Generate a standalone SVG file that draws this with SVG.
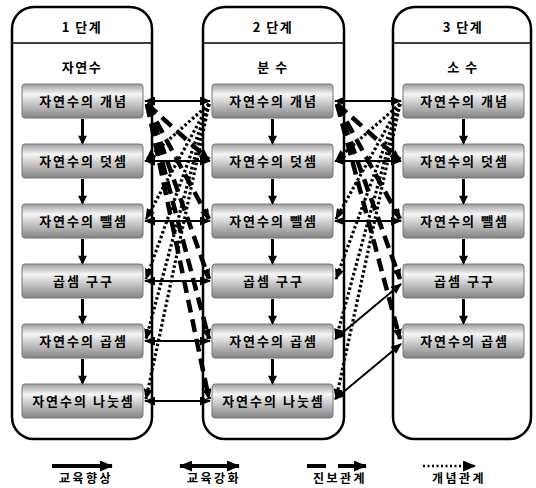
<svg xmlns="http://www.w3.org/2000/svg" width="536" height="488" viewBox="0 0 536 488">
  <defs>
    <linearGradient id="boxFill" x1="0" y1="0" x2="0" y2="1">
      <stop offset="0" stop-color="#9c9c9c"/>
      <stop offset="0.3" stop-color="#f6f6f6"/>
      <stop offset="1" stop-color="#828282"/>
    </linearGradient>
    <marker id="head" markerUnits="userSpaceOnUse" markerWidth="11" markerHeight="9" refX="10" refY="4.5" orient="auto-start-reverse" viewBox="0 0 11 9">
      <path d="M0,0 L11,4.5 L0,9 z" fill="#000"/>
    </marker>
    <marker id="downHead" markerUnits="userSpaceOnUse" markerWidth="10" markerHeight="9" refX="8" refY="5" orient="auto" viewBox="0 0 10 10">
      <path d="M0,0 L10,5 L0,10 z" fill="#000"/>
    </marker>
    <marker id="bigHead" markerUnits="userSpaceOnUse" markerWidth="13" markerHeight="11" refX="12" refY="5.5" orient="auto-start-reverse" viewBox="0 0 13 11">
      <path d="M0,0 L13,5.5 L0,11 z" fill="#000"/>
    </marker>
  </defs>
  <style>
    .col { fill: #fff; stroke: #000; stroke-width: 2.5; }
    .sep { stroke: #000; stroke-width: 1.5; }
    .box { fill: url(#boxFill); stroke: #767676; stroke-width: 1; }
    text { font-family: "Noto Sans CJK KR", "Noto Sans", sans-serif; font-weight: bold; fill: #000; text-anchor: middle; }
    .hdr { font-size: 13px; letter-spacing: 1.5px; }
    .lbl { font-size: 13px; letter-spacing: 2px; }
    .leg { font-size: 12px; letter-spacing: 2.5px; }
    .down { stroke: #000; stroke-width: 3; fill: none; marker-end: url(#downHead); }
    .both { stroke: #000; stroke-width: 2; fill: none; marker-start: url(#head); marker-end: url(#head); }
    .dash { stroke: #000; stroke-width: 4.5; fill: none; stroke-dasharray: 13 7; marker-end: url(#head); }
    .dot { stroke: #000; stroke-width: 3.2; fill: none; stroke-dasharray: 2.6 2.4; marker-end: url(#head); }
    .lsolid { stroke: #000; stroke-width: 4; fill: none; }
  </style>

  <!-- stage columns -->
  <g id="stage1">
    <rect class="col" x="12" y="7" width="140" height="432" rx="22"/>
    <line class="sep" x1="12" y1="43" x2="152" y2="43"/>
    <text class="hdr" x="82" y="32">1 단계</text>
    <text class="hdr" x="82" y="72">자연수</text>
  </g>
  <g id="stage2">
    <rect class="col" x="203" y="7" width="141" height="432" rx="22"/>
    <line class="sep" x1="203" y1="43" x2="344" y2="43"/>
    <text class="hdr" x="273" y="32">2 단계</text>
    <text class="hdr" x="273" y="72">분 수</text>
  </g>
  <g id="stage3">
    <rect class="col" x="393" y="7" width="138" height="432" rx="22"/>
    <line class="sep" x1="393" y1="43" x2="531" y2="43"/>
    <text class="hdr" x="463" y="32">3 단계</text>
    <text class="hdr" x="463" y="72">소 수</text>
  </g>

  <!-- stage 1 topics -->
  <g id="s1-concept"><rect class="box" x="22" y="84" width="121" height="34" rx="3"/><text class="lbl" x="83.5" y="106">자연수의 개념</text></g>
  <g id="s1-add"><rect class="box" x="22" y="144" width="121" height="34" rx="3"/><text class="lbl" x="83.5" y="166">자연수의 덧셈</text></g>
  <g id="s1-sub"><rect class="box" x="22" y="204" width="121" height="34" rx="3"/><text class="lbl" x="83.5" y="226">자연수의 뺄셈</text></g>
  <g id="s1-table"><rect class="box" x="22" y="264" width="121" height="34" rx="3"/><text class="lbl" x="83.5" y="286">곱셈 구구</text></g>
  <g id="s1-mul"><rect class="box" x="22" y="324" width="121" height="34" rx="3"/><text class="lbl" x="83.5" y="346">자연수의 곱셈</text></g>
  <g id="s1-div"><rect class="box" x="22" y="384" width="121" height="34" rx="3"/><text class="lbl" x="83.5" y="406">자연수의 나눗셈</text></g>

  <!-- stage 2 topics -->
  <g id="s2-concept"><rect class="box" x="212" y="84" width="121" height="34" rx="3"/><text class="lbl" x="273.5" y="106">자연수의 개념</text></g>
  <g id="s2-add"><rect class="box" x="212" y="144" width="121" height="34" rx="3"/><text class="lbl" x="273.5" y="166">자연수의 덧셈</text></g>
  <g id="s2-sub"><rect class="box" x="212" y="204" width="121" height="34" rx="3"/><text class="lbl" x="273.5" y="226">자연수의 뺄셈</text></g>
  <g id="s2-table"><rect class="box" x="212" y="264" width="121" height="34" rx="3"/><text class="lbl" x="273.5" y="286">곱셈 구구</text></g>
  <g id="s2-mul"><rect class="box" x="212" y="324" width="121" height="34" rx="3"/><text class="lbl" x="273.5" y="346">자연수의 곱셈</text></g>
  <g id="s2-div"><rect class="box" x="212" y="384" width="121" height="34" rx="3"/><text class="lbl" x="273.5" y="406">자연수의 나눗셈</text></g>

  <!-- stage 3 topics -->
  <g id="s3-concept"><rect class="box" x="403" y="84" width="121" height="34" rx="3"/><text class="lbl" x="464.5" y="106">자연수의 개념</text></g>
  <g id="s3-add"><rect class="box" x="403" y="144" width="121" height="34" rx="3"/><text class="lbl" x="464.5" y="166">자연수의 덧셈</text></g>
  <g id="s3-sub"><rect class="box" x="403" y="204" width="121" height="34" rx="3"/><text class="lbl" x="464.5" y="226">자연수의 뺄셈</text></g>
  <g id="s3-table"><rect class="box" x="403" y="264" width="121" height="34" rx="3"/><text class="lbl" x="464.5" y="286">곱셈 구구</text></g>
  <g id="s3-mul"><rect class="box" x="403" y="324" width="121" height="34" rx="3"/><text class="lbl" x="464.5" y="346">자연수의 곱셈</text></g>

  <!-- connectors -->
  <g id="connectors">
    <!-- sequence inside each stage -->
    <line class="down" x1="82.5" y1="119" x2="82.5" y2="143"/>
    <line class="down" x1="82.5" y1="179" x2="82.5" y2="203"/>
    <line class="down" x1="82.5" y1="239" x2="82.5" y2="263"/>
    <line class="down" x1="82.5" y1="299" x2="82.5" y2="323"/>
    <line class="down" x1="82.5" y1="359" x2="82.5" y2="383"/>
    <line class="down" x1="272.5" y1="119" x2="272.5" y2="143"/>
    <line class="down" x1="272.5" y1="179" x2="272.5" y2="203"/>
    <line class="down" x1="272.5" y1="239" x2="272.5" y2="263"/>
    <line class="down" x1="272.5" y1="299" x2="272.5" y2="323"/>
    <line class="down" x1="272.5" y1="359" x2="272.5" y2="383"/>
    <line class="down" x1="463.5" y1="119" x2="463.5" y2="143"/>
    <line class="down" x1="463.5" y1="179" x2="463.5" y2="203"/>
    <line class="down" x1="463.5" y1="239" x2="463.5" y2="263"/>
    <line class="down" x1="463.5" y1="299" x2="463.5" y2="323"/>

    <!-- stage 1 <-> stage 2, same topic -->
    <line class="both" x1="145" y1="101" x2="210" y2="101"/>
    <line class="both" x1="145" y1="161" x2="210" y2="161"/>
    <line class="both" x1="145" y1="221" x2="210" y2="221"/>
    <line class="both" x1="145" y1="281" x2="210" y2="281"/>
    <line class="both" x1="145" y1="341" x2="210" y2="341"/>
    <line class="both" x1="145" y1="401" x2="210" y2="401"/>

    <!-- stage 1 concept -> stage 2 topics -->
    <line class="dash" x1="147" y1="104" x2="209" y2="160"/>
    <line class="dash" x1="147" y1="104" x2="209" y2="219"/>
    <line class="dash" x1="147" y1="104" x2="209" y2="279"/>
    <line class="dash" x1="147" y1="104" x2="209" y2="339"/>
    <line class="dash" x1="147" y1="104" x2="209" y2="399"/>

    <!-- stage 2 concept -> stage 1 topics -->
    <line class="dot" x1="209" y1="104" x2="146" y2="160"/>
    <line class="dot" x1="209" y1="104" x2="146" y2="219"/>
    <line class="dot" x1="209" y1="104" x2="146" y2="279"/>
    <line class="dot" x1="209" y1="104" x2="146" y2="339"/>
    <line class="dot" x1="209" y1="104" x2="146" y2="399"/>

    <!-- stage 2 <-> stage 3 -->
    <line class="both" x1="335" y1="101" x2="401" y2="101"/>
    <line class="both" x1="335" y1="161" x2="401" y2="161"/>
    <line class="both" x1="335" y1="221" x2="401" y2="221"/>
    <line class="both" x1="335" y1="339" x2="401" y2="284"/>
    <line class="both" x1="335" y1="399" x2="401" y2="344"/>

    <!-- stage 2 concept -> stage 3 topics -->
    <line class="dash" x1="337" y1="104" x2="400" y2="160"/>
    <line class="dash" x1="337" y1="104" x2="400" y2="219"/>
    <line class="dash" x1="337" y1="104" x2="400" y2="279"/>
    <line class="dash" x1="337" y1="104" x2="400" y2="339"/>

    <!-- stage 3 concept -> stage 2 topics -->
    <line class="dot" x1="400" y1="104" x2="336" y2="160"/>
    <line class="dot" x1="400" y1="104" x2="336" y2="219"/>
    <line class="dot" x1="400" y1="104" x2="336" y2="279"/>
    <line class="dot" x1="400" y1="104" x2="336" y2="339"/>
    <line class="dot" x1="400" y1="104" x2="336" y2="399"/>
  </g>

  <!-- legend -->
  <g id="legend">
    <line class="lsolid" x1="52" y1="466" x2="112" y2="466" marker-end="url(#bigHead)"/>
    <text class="leg" x="86" y="483">교육향상</text>
    <line class="lsolid" x1="180" y1="466" x2="239" y2="466" marker-start="url(#bigHead)" marker-end="url(#bigHead)"/>
    <text class="leg" x="214" y="483">교육강화</text>
    <line class="lsolid" x1="307" y1="466" x2="326" y2="466"/>
    <line class="lsolid" x1="338" y1="466" x2="366" y2="466" marker-end="url(#bigHead)"/>
    <text class="leg" x="340" y="483">진보관계</text>
    <line x1="423" y1="466" x2="475" y2="466" stroke="#000" stroke-width="2.5" stroke-dasharray="2 2.5" marker-end="url(#bigHead)"/>
    <text class="leg" x="459" y="483">개념관계</text>
  </g>
</svg>
